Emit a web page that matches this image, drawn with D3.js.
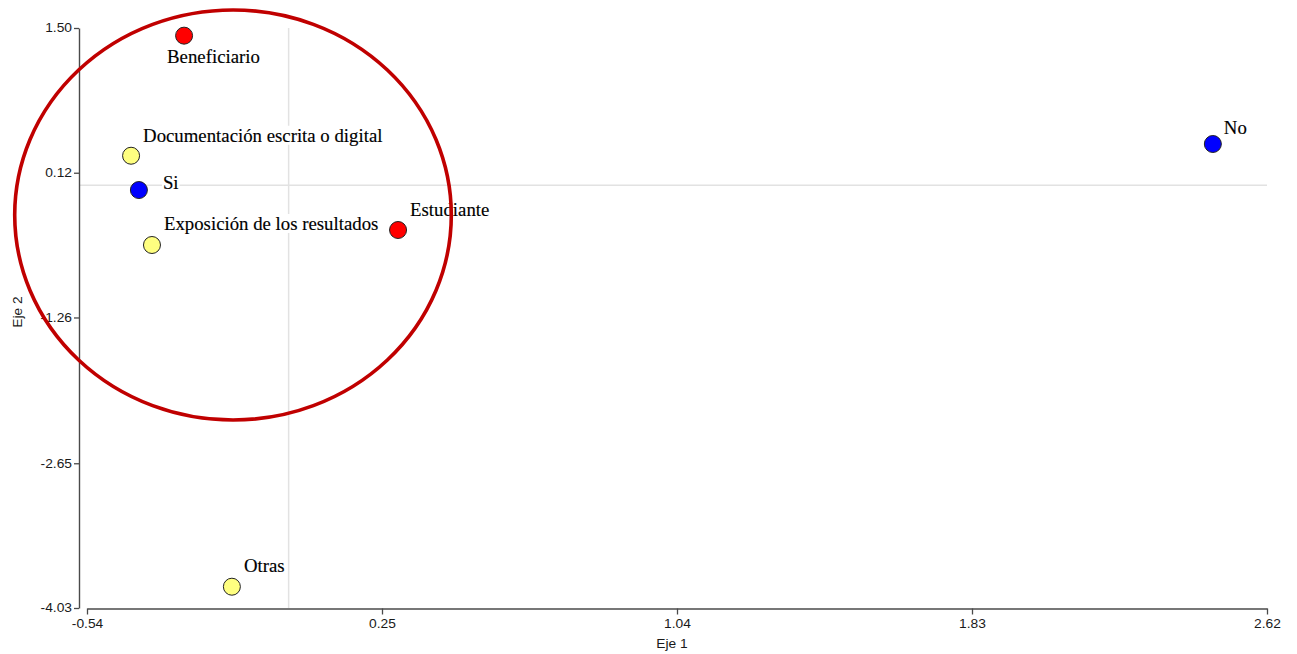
<!DOCTYPE html>
<html>
<head>
<meta charset="utf-8">
<script src="https://cdn.jsdelivr.net/npm/d3@7"></script>
<style>
  html, body { margin: 0; padding: 0; background: #fff; }
  svg { display: block; }
</style>
</head>
<body>
<svg id="chart" width="1297" height="654"></svg>
<script>
// ---- data ----
const categories = ["Beneficiario", "Documentación escrita o digital", "Si", "Exposición de los resultados", "Estudiante", "No", "Otras"];
const eje1Values = [-0.280, -0.422, -0.401, -0.366, 0.293, 2.475, -0.152];
const eje2Values = [1.427, 0.282, -0.045, -0.569, -0.426, 0.394, -3.827];
const groups = ["rol", "medio", "resp", "medio", "rol", "resp", "medio"];
const xTickValues = [-0.54, 0.25, 1.04, 1.83, 2.62];
const yTickValues = [1.50, 0.12, -1.26, -2.65, -4.03];
const xLabel = "Eje 1";
const yLabel = "Eje 2";
// annotation ellipse in data units: [cx, cy, rx, ry]
const highlight = [-0.149, -0.283, 0.5846, 1.955];

// ---- styles / layout ----
const groupColor = { rol: "#ff0000", medio: "#ffff80", resp: "#0000ff" };
// label offsets in px: [dx, dy]
const labelOffsets = [[-17, 27], [12, -14], [24, -1], [12, -15], [12, -14], [11, -10], [12, -15]];

const svg = d3.select("#chart");
const x = d3.scaleLinear().domain([-0.54, 2.62]).range([87, 1267]);
const y = d3.scaleLinear().domain([1.50, -4.03]).range([28, 608]);
const yAxisX = 79;
const xAxisY = 608.5;
const sx = 1.15;

// gridlines at zero
svg.append("line")
  .attr("x1", yAxisX).attr("x2", x(2.62))
  .attr("y1", y(0)).attr("y2", y(0))
  .attr("stroke", "#e2e2e2").attr("stroke-width", 1.5);
svg.append("line")
  .attr("x1", x(0)).attr("x2", x(0))
  .attr("y1", y(1.50)).attr("y2", y(-4.03))
  .attr("stroke", "#e2e2e2").attr("stroke-width", 1.5);

// axes
const f2 = d3.format(".2f");
const fmt = v => f2(v).replace("\u2212", "-");
const gx = svg.append("g")
  .attr("transform", `translate(0,${xAxisY})`)
  .call(d3.axisBottom(x).tickValues(xTickValues).tickFormat(fmt).tickSize(6).tickSizeOuter(0).tickPadding(5));
const gy = svg.append("g")
  .attr("transform", `translate(${yAxisX},0)`)
  .call(d3.axisLeft(y).tickValues(yTickValues).tickFormat(fmt).tickSize(5).tickSizeOuter(0).tickPadding(2));

[gx, gy].forEach(g => {
  g.select(".domain").attr("stroke", "#4a4a4a").attr("stroke-width", 1.4);
  g.selectAll(".tick line").attr("stroke", "#4a4a4a").attr("stroke-width", 1.3);
  g.selectAll(".tick text")
    .attr("font-family", "'Liberation Sans', Arial, sans-serif")
    .attr("font-size", "12px")
    .attr("fill", "#1a1a1a");
});
gx.selectAll(".tick text").attr("transform", `scale(${sx},1)`);
gy.selectAll(".tick text").attr("x", -7 / sx).attr("transform", `scale(${sx},1)`);

// axis titles
svg.append("text")
  .attr("transform", `translate(${x(1.04) - 5},648) scale(${sx},1)`)
  .attr("text-anchor", "middle")
  .attr("font-family", "'Liberation Sans', Arial, sans-serif")
  .attr("font-size", "12px").attr("fill", "#1a1a1a")
  .text(xLabel);
svg.append("text")
  .attr("transform", `translate(22,312) rotate(-90) scale(${sx},1)`)
  .attr("text-anchor", "middle")
  .attr("font-family", "'Liberation Sans', Arial, sans-serif")
  .attr("font-size", "12px").attr("fill", "#1a1a1a")
  .text(yLabel);

// data
const data = categories.map((c, i) => ({ name: c, x: eje1Values[i], y: eje2Values[i], g: groups[i], off: labelOffsets[i] }));

// labels with white background
const lab = svg.append("g").selectAll("g").data(data).enter().append("g");
lab.append("rect").attr("fill", "#fff");
lab.append("text")
  .attr("x", d => x(d.x) + d.off[0])
  .attr("y", d => y(d.y) + d.off[1])
  .attr("font-family", "'Liberation Serif', 'Times New Roman', serif")
  .attr("font-size", "18.8px")
  .attr("fill", "#000")
  .attr("stroke", "#000").attr("stroke-width", 0.15)
  .text(d => d.name);
lab.each(function() {
  const t = d3.select(this).select("text").node().getBBox();
  d3.select(this).select("rect")
    .attr("x", t.x - 1).attr("y", t.y + 1)
    .attr("width", t.width + 2).attr("height", t.height - 2);
});

// points
svg.append("g").selectAll("circle").data(data).enter().append("circle")
  .attr("cx", d => x(d.x))
  .attr("cy", d => y(d.y))
  .attr("r", 8.5)
  .attr("fill", d => groupColor[d.g])
  .attr("stroke", "#222")
  .attr("stroke-width", 1);

// highlight ellipse
svg.append("ellipse")
  .attr("cx", x(highlight[0]))
  .attr("cy", y(highlight[1]))
  .attr("rx", x(highlight[0] + highlight[2]) - x(highlight[0]))
  .attr("ry", y(highlight[1] - highlight[3]) - y(highlight[1]))
  .attr("fill", "none")
  .attr("stroke", "#c00000")
  .attr("stroke-width", 3.6);
</script>
</body>
</html>
